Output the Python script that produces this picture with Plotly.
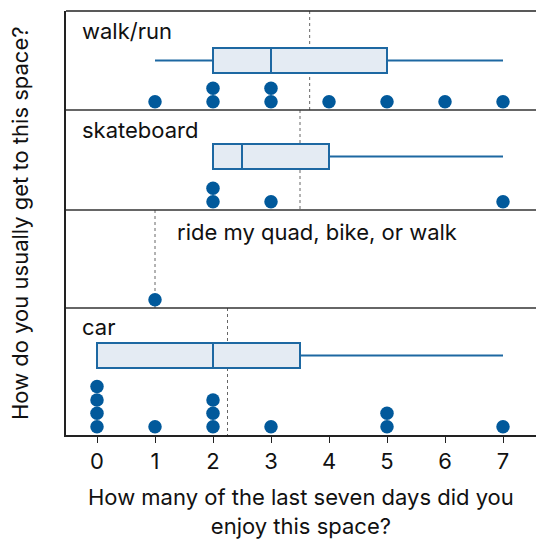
import numpy as np
import plotly.graph_objects as go

# ---- data ----
categories = ["walk/run", "skateboard", "ride my quad, bike, or walk", "car"]
walk_run = [1, 2, 2, 3, 3, 4, 5, 6, 7]
skateboard = [2, 2, 3, 7]
ride = [1]
car = [0, 0, 0, 0, 1, 2, 2, 2, 3, 5, 5, 7]
series = [walk_run, skateboard, ride, car]
x_ticks = [0, 1, 2, 3, 4, 5, 6, 7]

# ---- layout helpers (pixel-like y units, top of plot = 11, bottom = 435) ----
panel_tops = [11, 110, 210, 308]
panel_bottoms = [110, 210, 308, 435]
box_centers = [60.5, 156.5, None, 355.5]
label_x_px = [80, 80, 175, 80]
label_y = [31, 130, 232, 327]
DOT_STEP = 13.4
DOT_OFFSET = 8.3

DOT_COLOR = "#01599b"
BOX_LINE = "#1d68a2"
BOX_FILL = "#e4ebf3"
FONT = "Inter"
FS = 22

fig = go.Figure()
shapes = []
annotations = []

for i, vals in enumerate(series):
    bottom = panel_bottoms[i]
    arr = np.array(vals, dtype=float)
    # stacked dots
    xs, ys = [], []
    counts = {}
    for v in sorted(vals):
        k = counts.get(v, 0)
        counts[v] = k + 1
        xs.append(v)
        ys.append(bottom - DOT_OFFSET - DOT_STEP * k)
    # box (numpy default quartiles, Tukey whiskers)
    if len(vals) > 1:
        q1, med, q3 = np.percentile(arr, [25, 50, 75])
        iqr = q3 - q1
        lo = arr[arr >= q1 - 1.5 * iqr].min()
        hi = arr[arr <= q3 + 1.5 * iqr].max()
        fig.add_trace(go.Box(
            q1=[q1], median=[med], q3=[q3], lowerfence=[lo], upperfence=[hi],
            y=[box_centers[i]], orientation="h",
            width=25, boxpoints=False, whiskerwidth=0,
            line=dict(color=BOX_LINE, width=2), fillcolor=BOX_FILL,
            showlegend=False, hoverinfo="skip",
        ))
    fig.add_trace(go.Scatter(
        x=xs, y=ys, mode="markers",
        marker=dict(size=13.5, color=DOT_COLOR, line=dict(width=0)),
        showlegend=False, hoverinfo="skip", cliponaxis=False,
    ))
    # mean line
    m = float(arr.mean())
    shapes.append(dict(type="line", xref="x", yref="y", x0=m, x1=m,
                       y0=panel_tops[i], y1=bottom, layer="below",
                       line=dict(color="#666666", width=1, dash="dot")))
    # divider
    if i > 0:
        shapes.append(dict(type="line", xref="paper", yref="y", x0=0, x1=1,
                           y0=panel_tops[i], y1=panel_tops[i],
                           line=dict(color="#333333", width=1.5)))
    annotations.append(dict(text=categories[i], xref="paper", yref="y",
                            x=(label_x_px[i] - 66) / 470, y=label_y[i],
                            xanchor="left", yanchor="middle", showarrow=False,
                            font=dict(family=FONT, size=FS, color="#111111")))

# top border
shapes.append(dict(type="line", xref="paper", yref="paper", x0=0, x1=1, y0=1, y1=1,
                   line=dict(color="#222222", width=1.5)))

annotations.append(dict(text="How do you usually get to this space?",
                        xref="paper", yref="paper", x=(20 - 66) / 470, y=0.5,
                        xanchor="center", yanchor="middle", textangle=-90,
                        showarrow=False,
                        font=dict(family=FONT, size=FS, color="#111111")))
annotations.append(dict(text="How many of the last seven days did you<br>enjoy this space?",
                        xref="paper", yref="paper", x=0.5, y=(435 - 482) / 424,
                        xanchor="center", yanchor="top", showarrow=False,
                        font=dict(family=FONT, size=FS, color="#111111")))

fig.update_layout(
    width=536, height=540,
    margin=dict(l=66, r=0, t=11, b=105),
    plot_bgcolor="white", paper_bgcolor="white",
    shapes=shapes, annotations=annotations,
    boxmode="overlay",
    xaxis=dict(range=[(66 - 97) / 58, (536 - 97) / 58],
               tickmode="array", tickvals=x_ticks, ticktext=[str(t) for t in x_ticks],
               ticks="outside", ticklen=6, tickwidth=1, tickcolor="#222222",
               showgrid=False, zeroline=False,
               showline=True, linecolor="#222222", linewidth=1.5, mirror=False,
               tickfont=dict(family=FONT, size=FS, color="#111111")),
    yaxis=dict(range=[435, 11], showticklabels=False, ticks="",
               showgrid=False, zeroline=False,
               showline=True, linecolor="#222222", linewidth=1.5, mirror=False),
)

fig.write_html("out.html", config={"displayModeBar": False},
               post_script="document.body.style.margin='0';")
